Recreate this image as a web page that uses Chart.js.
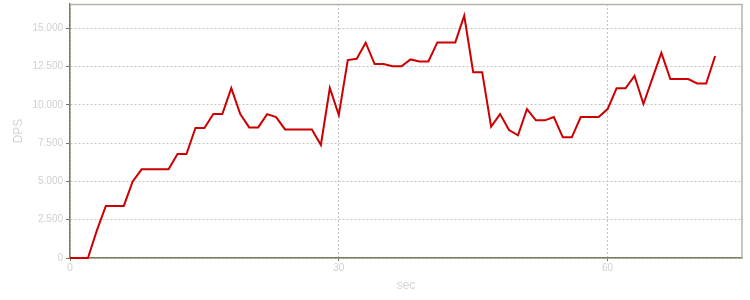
<!DOCTYPE html>
<html>
<head>
<meta charset="utf-8">
<script src="https://cdn.jsdelivr.net/npm/chart.js@4/dist/chart.umd.min.js"></script>
<style>
html,body{margin:0;padding:0;background:#fff;}
#wrap{width:750px;height:300px;}
</style>
</head>
<body>
<div id="wrap"><canvas id="c" width="750" height="300"></canvas></div>
<script>
const seconds = [0,1,2,3,4,5,6,7,8,9,10,11,12,13,14,15,16,17,18,19,20,21,22,23,24,25,26,27,28,29,30,31,32,33,34,35,36,37,38,39,40,41,42,43,44,45,46,47,48,49,50,51,52,53,54,55,56,57,58,59,60,61,62,63,64,65,66,67,68,69,70,71,72];
const dps = [0,0,0,1800,3400,3400,3400,5000,5790,5790,5790,5790,6790,6790,8490,8490,9400,9400,11100,9400,8530,8530,9400,9200,8400,8400,8400,8400,7380,11100,9340,12930,13010,14060,12670,12670,12520,12520,12970,12840,12840,14080,14080,14080,15820,12140,12140,8580,9400,8360,8010,9730,8990,8990,9210,7880,7880,9210,9210,9210,9730,11080,11080,11890,10060,11730,13400,11690,11690,11690,11400,11400,13190];
const xTicks = [0,30,60];
const yTicks = [0,2500,5000,7500,10000,12500,15000];
const xMax = 75;
const yMax = 16590;

function fmt(v){ return String(v).replace(/\B(?=(\d{3})+(?!\d))/g, '.'); }

const points = seconds.map((s,i)=>({x:s,y:dps[i]}));

const frame = {
  id:'frame',
  afterDraw(chart){
    const {ctx, chartArea:a} = chart;
    ctx.save();
    ctx.strokeStyle = '#b4b4a4';
    ctx.lineWidth = 1.5;
    ctx.beginPath();
    ctx.moveTo(a.left, a.top+0.5);
    ctx.lineTo(a.right, a.top+0.5);
    ctx.lineTo(a.right, a.bottom);
    ctx.stroke();
    ctx.restore();
  }
};

new Chart(document.getElementById('c'), {
  type:'line',
  data:{datasets:[{data:points, borderColor:'#cc0000', borderWidth:2, pointRadius:0, tension:0, fill:false, clip:4}]},
  options:{
    responsive:false, animation:false,
    layout:{padding:{left:0, top:4, right:8, bottom:0}},
    plugins:{legend:{display:false}, tooltip:{enabled:false}},
    scales:{
      x:{
        type:'linear', min:0, max:xMax,
        afterBuildTicks(ax){ ax.ticks = xTicks.map(v=>({value:v})); },
        afterFit(ax){ ax.height = 42; ax.paddingLeft = 0; ax.paddingRight = 0; },
        ticks:{color:'#d0d0d0', font:{family:'"Liberation Sans", Arial', size:10}, padding:1, maxRotation:0},
        grid:{color:'#c4c4bc', lineWidth:1, tickLength:3, tickColor:'#77775f', tickBorderDash:[], drawOnChartArea:true},
        border:{display:true, color:'#7a7a64', width:1.5, dash:[2,2]},
        title:{display:true, text:'sec', color:'#d4d4d4', font:{family:'"Liberation Sans", Arial', size:12}, padding:{top:0,bottom:6.8}}
      },
      y:{
        type:'linear', min:0, max:yMax,
        afterBuildTicks(ax){ ax.ticks = yTicks.map(v=>({value:v})); },
        afterFit(ax){ ax.width = 70; ax.paddingTop = 0; ax.paddingBottom = 0; },
        ticks:{color:'#d0d0d0', font:{family:'"Liberation Sans", Arial', size:10}, padding:3, callback:(v)=>fmt(v)},
        grid:{color:'#c4c4bc', lineWidth:1, tickLength:4, tickColor:'#77775f', tickBorderDash:[]},
        border:{display:true, color:'#7a7a64', width:1.5, dash:[2,2]},
        title:{display:true, text:'DPS', color:'#d4d4d4', font:{family:'"Liberation Sans", Arial', size:12}, padding:{top:11.3,bottom:0}}
      }
    }
  },
  plugins:[frame]
});
</script>
</body>
</html>
